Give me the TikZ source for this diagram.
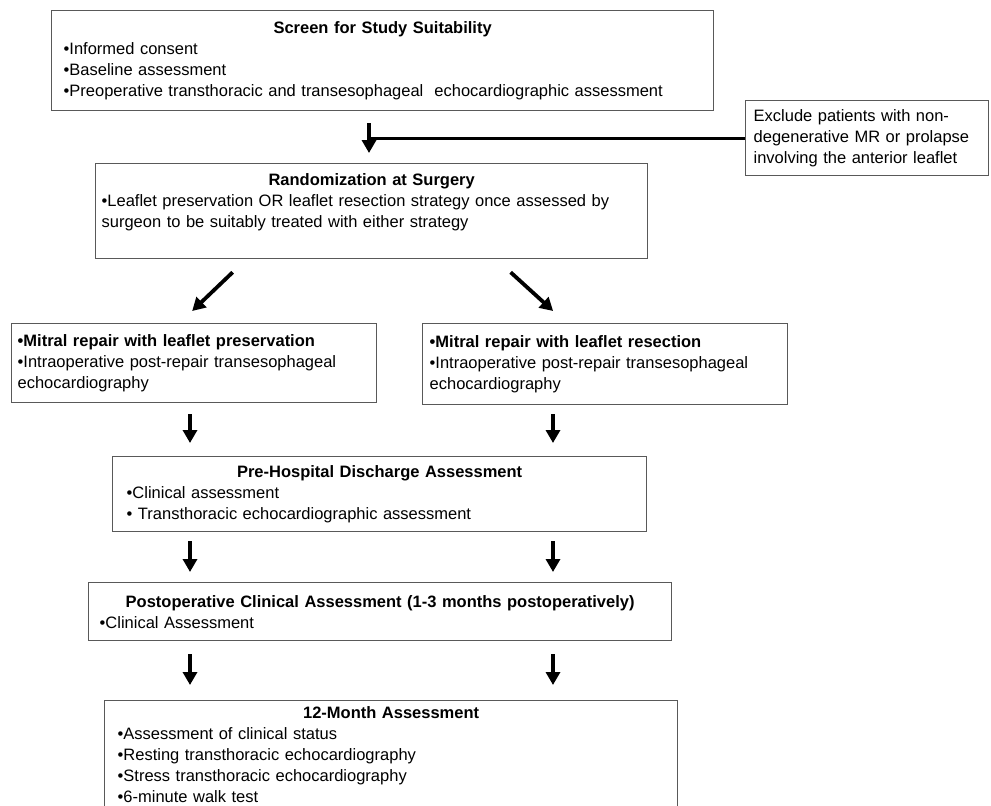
\documentclass[tikz,border=0pt]{standalone}
\usepackage{fontspec}
\setmainfont{Liberation Sans}
\usetikzlibrary{arrows.meta}
\definecolor{boxgray}{HTML}{595959}

\begin{document}
\begin{tikzpicture}[
  x=1pt, y=-1pt,
  font=\fontsize{16.5}{21}\selectfont,
  box/.style={draw=boxgray, line width=1.3pt, anchor=north west, align=left, inner ysep=8pt},
  arr/.style={line width=3.8pt, -{Triangle[length=13pt, width=14pt]}},
  ln/.style={line width=3pt},
]
\useasboundingbox (0,0) rectangle (991,806);
% --- arrow columns ---
\coordinate (colM) at (369,0);
\coordinate (colL) at (190,0);
\coordinate (colR) at (553,0);
% ===================== screening =====================
\node[box, text width=638pt, inner xsep=12pt, minimum height=100pt] (screen) at (51,10) {%
  {\centering\bfseries Screen for Study Suitability\par}
  •Informed consent\\
  •Baseline assessment\\
  •Preoperative transthoracic and transesophageal\ \ echocardiographic assessment};
\node[box, text width=227pt, inner xsep=8pt, minimum height=75pt] (excl) at (745,100) {%
  Exclude patients with non-\\
  degenerative MR or prolapse\\
  involving the anterior leaflet};
\node[box, text width=540pt, inner xsep=6pt, minimum height=95pt] (rand) at (95,163) {%
  {\centering\bfseries Randomization at Surgery\par}
  •Leaflet preservation OR leaflet resection strategy once assessed by\\
  surgeon to be suitably treated with either strategy\rule[-22pt]{0pt}{0pt}};
\draw[arr, shorten <=12pt, shorten >=10pt] (screen.south -| colM) -- (rand.north -| colM);
\draw[ln] (excl.west) -- (excl.west -| colM);
% ===================== two arms =====================
\node[box, text width=353pt, inner xsep=6pt, minimum height=79pt] (mitL) at (11,323) {%
  \textbf{•Mitral repair with leaflet preservation}\\
  •Intraoperative post-repair transesophageal\\
  echocardiography};
\node[box, text width=351pt, inner xsep=7pt, minimum height=81pt] (mitR) at (422,323) {%
  \textbf{•Mitral repair with leaflet resection}\\
  •Intraoperative post-repair transesophageal\\
  echocardiography};
\coordinate (dLs) at ([shift={(-139pt,-13pt)}]rand.south);
\coordinate (dLe) at ([shift={(-2pt,12pt)}]mitL.north);
\coordinate (dRs) at ([shift={(139pt,-13pt)}]rand.south);
\coordinate (dRe) at ([shift={(-52pt,12pt)}]mitR.north);
\draw[arr] (dLs) -- (dLe);
\draw[arr] (dRs) -- (dRe);
% ===================== follow-up =====================
\node[box, text width=506pt, inner xsep=14pt, minimum height=75pt] (prehosp) at (112,456) {%
  {\centering\bfseries Pre-Hospital Discharge Assessment\par}
  •Clinical assessment\\
  • Transthoracic echocardiographic assessment};
\node[box, text width=561pt, inner xsep=11pt, minimum height=58pt] (postop) at (88,582) {%
  {\centering\bfseries Postoperative Clinical Assessment (1-3 months postoperatively)\par}
  •Clinical Assessment};
\node[box, text width=547pt, inner xsep=13pt, inner ysep=6pt] (twelve) at (104,700) {%
  {\centering\bfseries 12-Month Assessment\par}
  •Assessment of clinical status\\
  •Resting transthoracic echocardiography\\
  •Stress transthoracic echocardiography\\
  •6-minute walk test};
\draw[arr, shorten <=11pt, shorten >=13pt] (mitL.south -| colL) -- (prehosp.north -| colL);
\draw[arr, shorten <=9pt, shorten >=13pt] (mitR.south -| colR) -- (prehosp.north -| colR);
\foreach \c in {colL,colR} {
  \draw[arr, shorten <=9pt, shorten >=10pt] (prehosp.south -| \c) -- (postop.north -| \c);
  \draw[arr, shorten <=13pt, shorten >=15pt] (postop.south -| \c) -- (twelve.north -| \c);
}
\end{tikzpicture}
\end{document}
